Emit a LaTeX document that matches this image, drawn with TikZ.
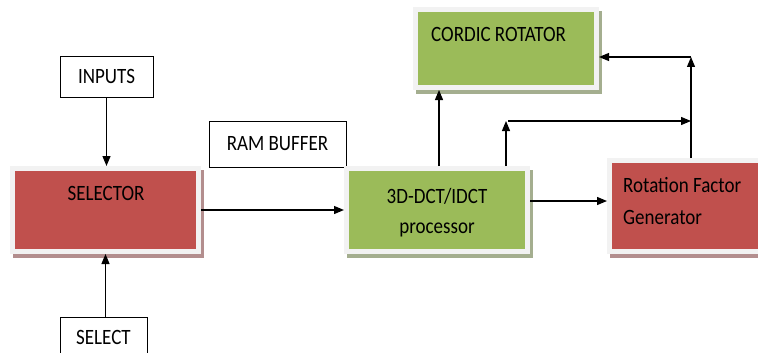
\documentclass[tikz,border=0pt]{standalone}
\usepackage{fontspec}
\setmainfont{Carlito}
\usepackage{graphicx}
\usetikzlibrary{arrows.meta,shadows}
\definecolor{redfill}{HTML}{C0504D}
\definecolor{greenfill}{HTML}{9BBB59}
\definecolor{redshade}{HTML}{B38E8E}
\definecolor{greenshade}{HTML}{A4AE8F}
\definecolor{boxframe}{HTML}{F2F2F2}
\newcommand{\tall}[1]{\scalebox{1}[1.15]{#1}}

\begin{document}
\begin{tikzpicture}[x=1pt,y=-1pt,font=\fontsize{19}{23}\selectfont]
\tikzstyle{inbox}=[rectangle,draw=black,line width=0.9pt,inner sep=0pt]
\tikzstyle{block}=[rectangle,draw=boxframe,line width=5pt,inner sep=0pt]
\tikzstyle{redblock}=[block,fill=redfill,drop shadow={shadow xshift=3pt,shadow yshift=-4pt,fill=redshade,draw=redshade,line width=5pt,opacity=1}]
\tikzstyle{greenblock}=[block,fill=greenfill,drop shadow={shadow xshift=3pt,shadow yshift=-4pt,fill=greenshade,draw=greenshade,line width=5pt,opacity=1}]
\tikzstyle{lbl}=[inner sep=0pt]
\tikzstyle{arr}=[-{Triangle[length=10pt,width=8pt]},line width=1.2pt]
\useasboundingbox (0,0) rectangle (758,353);
\clip (0,0) rectangle (758,353);
% input boxes
\node [inbox,minimum width=93pt,minimum height=41pt] (inputs) at (106.5,76.5) {\tall{INPUTS}};
\node [inbox,minimum width=137pt,minimum height=46pt] (ram) at (277.5,144) {\tall{RAM BUFFER}};
\node [inbox,minimum width=87pt,minimum height=41pt] (select) at (103.5,337.5) {\tall{SELECT}};
% blocks
\node [redblock,minimum width=186pt,minimum height=83pt] (sel) at (105.5,210) {};
\node [greenblock,minimum width=181pt,minimum height=83pt] (dct) at (437,210) {};
\node [redblock,minimum width=186pt,minimum height=91pt] (rot) at (702.5,206) {};
\node [greenblock,minimum width=181pt,minimum height=78pt] (cor) at (506,48.5) {};
\node [lbl,anchor=base] (seltext) at (106,200) {\tall{SELECTOR}};
\node [lbl,anchor=base] (dcttext) at (437,203) {\tall{3D-DCT/IDCT}};
\node [lbl,anchor=base] (dcttext2) at (437,233) {\tall{processor}};
\node [lbl,anchor=base west] (rottext) at (623,192) {\tall{Rotation Factor}};
\node [lbl,anchor=base west] (rottext2) at (623,224) {\tall{Generator}};
\node [lbl,anchor=base west] (cortext) at (431,42) {\tall{CORDIC ROTATOR}};
% connectors
\coordinate (up1) at (506,121);
\coordinate (right1) at (691,121);
\coordinate (up2) at (691,57);
\draw[arr] (inputs.south) -- (inputs.south |- sel.north);
\draw[arr] (sel.south |- select.north) -- (sel.south);
\draw[arr] (sel.east) -- (dct.west);
\draw[arr] ([yshift=9pt]dct.east) -- ([yshift=9pt]dct.east -| rot.west);
\draw[arr] ([xshift=2pt]dct.north) -- ([xshift=2pt]dct.north |- cor.south);
\draw[arr] (dct.north -| up1) -- (up1);
\draw[arr] ([xshift=2pt]up1) -- (right1);
\draw[arr] (rot.north -| up2) -- (up2);
\draw[arr] (up2) -- (up2 -| cor.east);
\end{tikzpicture}
\end{document}
